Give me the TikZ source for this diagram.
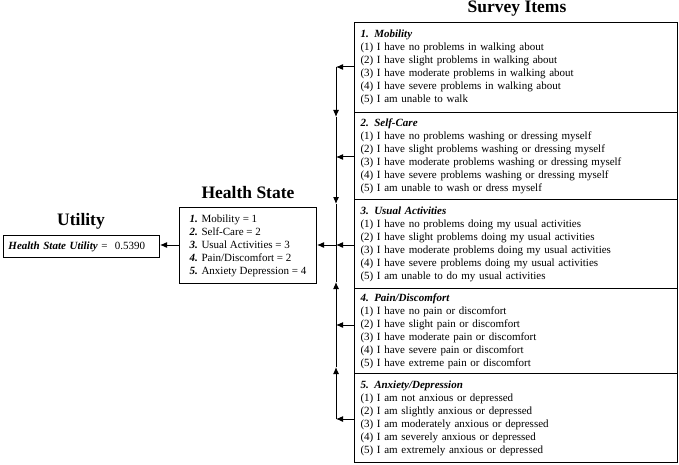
\documentclass[tikz,border=0pt]{standalone}
\usepackage{fontspec}
\setmainfont{Liberation Serif}
\usetikzlibrary{arrows.meta,calc}
\begin{document}
\begin{tikzpicture}[x=1pt,y=-1pt,
  survbox/.style={draw, line width=1pt, anchor=north west, inner xsep=6pt, inner ysep=2pt,
    text width=311pt, align=left, font=\fontsize{11}{13}\selectfont},
  title/.style={anchor=base, font=\fontsize{17.5}{20}\selectfont\bfseries},
  arr/.style={-{Latex[length=7pt,width=6pt]}, line width=1pt},
  bus/.style={line width=1pt}
]
\useasboundingbox (0,0) rectangle (679,465);

% titles
\node[title] (tsurv) at (517,13) {Survey Items};
\node[title] (thealth) at (248,198) {Health State};
\node[title] (tutil) at (81,225) {Utility};

% survey boxes
\node[survbox, minimum height=90pt] (s1) at (354,22) {\textbf{\textit{1. Mobility}}\\
(1) I have no problems in walking about\\
(2) I have slight problems in walking about\\
(3) I have moderate problems in walking about\\
(4) I have severe problems in walking about\\
(5) I am unable to walk};
\node[survbox, minimum height=87pt] (s2) at (354,112) {\textbf{\textit{2. Self-Care}}\\
(1) I have no problems washing or dressing myself\\
(2) I have slight problems washing or dressing myself\\
(3) I have moderate problems washing or dressing myself\\
(4) I have severe problems washing or dressing myself\\
(5) I am unable to wash or dress myself};
\node[survbox, minimum height=89pt] (s3) at (354,199) {\textbf{\textit{3. Usual Activities}}\\
(1) I have no problems doing my usual activities\\
(2) I have slight problems doing my usual activities\\
(3) I have moderate problems doing my usual activities\\
(4) I have severe problems doing my usual activities\\
(5) I am unable to do my usual activities};
\node[survbox, minimum height=85pt] (s4) at (354,288) {\textbf{\textit{4. Pain/Discomfort}}\\
(1) I have no pain or discomfort\\
(2) I have slight pain or discomfort\\
(3) I have moderate pain or discomfort\\
(4) I have severe pain or discomfort\\
(5) I have extreme pain or discomfort};
\node[survbox, minimum height=89pt] (s5) at (354,373) {\textbf{\textit{5. Anxiety/Depression}}\\
(1) I am not anxious or depressed\\
(2) I am slightly anxious or depressed\\
(3) I am moderately anxious or depressed\\
(4) I am severely anxious or depressed\\
(5) I am extremely anxious or depressed};

% health state box
\node[draw, line width=1pt, anchor=north west, minimum width=137pt, minimum height=76pt,
  align=left, inner xsep=8pt, font=\fontsize{11}{13}\selectfont] (hs) at (179,207)
  {\textbf{\textit{1.}} Mobility = 1\\
   \textbf{\textit{2.}} Self-Care = 2\\
   \textbf{\textit{3.}} Usual Activities = 3\\
   \textbf{\textit{4.}} Pain/Discomfort = 2\\
   \textbf{\textit{5.}} Anxiety Depression = 4};

% utility box
\node[draw, line width=1pt, anchor=north west, minimum width=156pt, minimum height=22pt,
  inner xsep=5pt, text width=146pt, align=left, font=\fontsize{11}{13}\selectfont] (ut) at (3,235)
  {\textbf{\textit{Health State Utility}} =\ \ 0.5390};

% bus coordinates
\coordinate (b1) at (336,67);
\coordinate (d1) at (336,117);
\coordinate (b2) at (336,157);
\coordinate (d2) at (336,204);
\coordinate (b3) at (336,245);
\coordinate (u4) at (336,282);
\coordinate (b4) at (336,325);
\coordinate (u5) at (336,367);
\coordinate (b5) at (336,419);

% horizontal arrows from survey boxes
\draw[arr] (s1.west |- b1) -- (b1);
\draw[arr] (s2.west |- b2) -- (b2);
\draw[arr] (s3.west |- b3) -- (b3);
\draw[arr] (s4.west |- b4) -- (b4);
\draw[arr] (s5.west |- b5) -- (b5);

% bus with arrowheads
\draw[arr] (b1) -- (d1);
\draw[bus] (d1) -- (b2);
\draw[arr] (b2) -- (d2);
\draw[bus] (d2) -- (b3);
\draw[arr] (b5) -- (u5);
\draw[bus] (u5) -- (b4);
\draw[arr] (b4) -- (u4);
\draw[bus] (u4) -- (b3);

% to health state and utility
\draw[arr] (b3) -- (hs.east |- b3);
\draw[arr] (hs.west |- b3) -- (ut.east |- b3);
\end{tikzpicture}
\end{document}
